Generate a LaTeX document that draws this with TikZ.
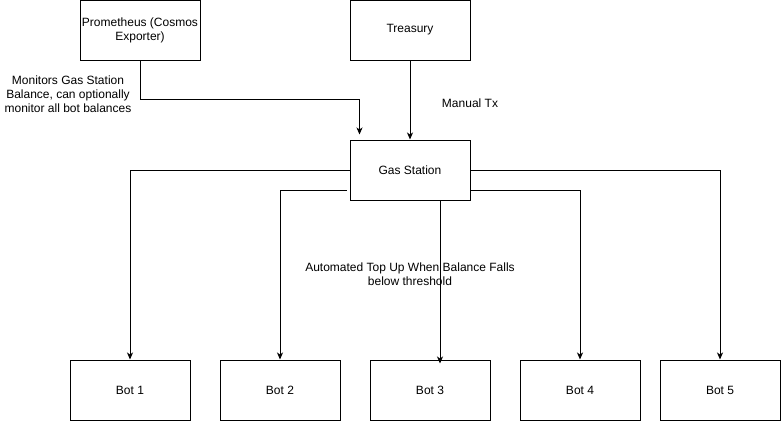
\documentclass[tikz,border=0pt]{standalone}
\usepackage{fontspec}
\setmainfont{Liberation Sans}
\usetikzlibrary{arrows.meta,calc}
\begin{document}
\begin{tikzpicture}[x=1pt,y=-1pt,
  box/.style={draw,line width=1pt,minimum width=120pt,minimum height=60pt,inner sep=0pt,align=center,font=\fontsize{12}{14}\selectfont},
  lbl/.style={align=center,font=\fontsize{12}{14}\selectfont,inner sep=0pt},
  conn/.style={line width=1pt},
  arr/.style={conn,-{Stealth[length=7pt,width=6pt,inset=2pt]}}]
\useasboundingbox (0,0) rectangle (781,421);
\node[box] (prom) at (140,30) {Prometheus (Cosmos\\Exporter)};
\node[box] (tre) at (410,30) {Treasury};
\node[box] (gs) at (410,170) {Gas Station};
\node[box] (b1) at (130,390) {Bot 1};
\node[box] (b2) at (280,390) {Bot 2};
\node[box] (b3) at (430,390) {Bot 3};
\node[box] (b4) at (580,390) {Bot 4};
\node[box] (b5) at (720,390) {Bot 5};
\node[lbl] (l1) at (68,94) {Monitors Gas Station\\Balance, can optionally\\monitor all bot balances};
\node[lbl] (l2) at (470,103) {Manual Tx};
\node[lbl] (l3) at (410,274) {Automated Top Up When Balance Falls\\below threshold};
\coordinate (pm) at ($(gs.north west)+(10,-40)$);
\coordinate (pe) at ($(gs.north west)+(10,-5)$);
\draw[arr] (prom.south) |- (pm) -- (pe);
\draw[arr] (tre.south) -- (gs.north);
\draw[arr] (gs.west) -| (b1.north);
\draw[arr] ([xshift=-3pt,yshift=10pt]gs.south west) -| (b2.north);
\draw[arr] ([xshift=30pt]gs.south) -- ([xshift=10pt,yshift=-4pt]b3.north);
\draw[arr] ([yshift=10pt]gs.south east) -| (b4.north);
\draw[arr] (gs.east) -| (b5.north);
\end{tikzpicture}
\end{document}
